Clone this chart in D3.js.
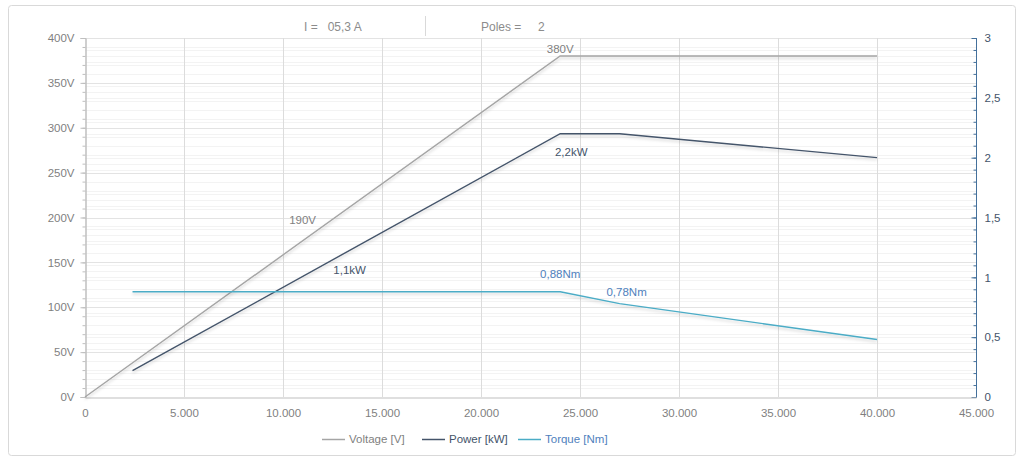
<!DOCTYPE html>
<html><head><meta charset="utf-8">
<script src="https://cdn.jsdelivr.net/npm/d3@7"></script>
<style>
body{margin:0;background:#fff;}
svg{font-family:"Liberation Sans Narrow","Liberation Sans",Arial,sans-serif;}
</style></head><body>
<svg id="c" width="1024" height="461"></svg>
<script>
const voltageRpm = [0, 24000, 40000];
const voltageVal = [0, 380, 380];
const powerRpm = [2400, 24000, 27000, 40000];
const powerVal = [0.22, 2.2, 2.2, 2.0];
const torqueRpm = [2400, 24000, 27000, 40000];
const torqueVal = [0.88, 0.88, 0.78, 0.48];
const xTicks = [0,5000,10000,15000,20000,25000,30000,35000,40000,45000];
const yLeftTicks = [0,50,100,150,200,250,300,350,400];
const yRightTicks = [0,0.5,1,1.5,2,2.5,3];
const labels = [
  {t:"190V", x:12000, y:190, axis:"L", color:"#7f7f7f", dx:-20, dy:-2},
  {t:"380V", x:24000, y:380, axis:"L", color:"#7f7f7f", dx:0, dy:-3},
  {t:"1,1kW", x:12000, y:1.1, axis:"R", color:"#44546a", dx:27, dy:9},
  {t:"2,2kW", x:24000, y:2.2, axis:"R", color:"#44546a", dx:11, dy:22},
  {t:"0,88Nm", x:24000, y:0.88, axis:"R", color:"#4f81bd", dx:0, dy:-14},
  {t:"0,78Nm", x:27000, y:0.78, axis:"R", color:"#4f81bd", dx:7, dy:-8}
];
const series = [
  {name:"Voltage [V]", xs:voltageRpm, ys:voltageVal, axis:"L", color:"#a5a5a5", text:"#7f7f7f"},
  {name:"Power [kW]", xs:powerRpm, ys:powerVal, axis:"R", color:"#44546a", text:"#44546a"},
  {name:"Torque [Nm]", xs:torqueRpm, ys:torqueVal, axis:"R", color:"#4bacc6", text:"#4f81bd"}
];

const svg = d3.select("#c");
const L=85, R=976, T=38, B=397;
const x = d3.scaleLinear().domain([0,45000]).range([L,R]);
const yL = d3.scaleLinear().domain([0,400]).range([B,T]);
const yR = d3.scaleLinear().domain([0,3]).range([B,T]);

const defs = svg.append("defs");
const f = defs.append("filter").attr("id","sh").attr("x","-5%").attr("y","-20%").attr("width","110%").attr("height","160%");
f.append("feDropShadow").attr("dx",0).attr("dy",2).attr("stdDeviation",1.5).attr("flood-color","#000").attr("flood-opacity",0.18);

// border
svg.append("rect").attr("x",8.5).attr("y",5.5).attr("width",1007).attr("height",450).attr("rx",3)
  .attr("fill","#fff").attr("stroke","#d9d9d9");

// header
svg.append("text").attr("x",304).attr("y",31).attr("font-size",12).attr("fill","#8c8c8c").attr("xml:space","preserve").text("I =   05,3 A");
svg.append("line").attr("x1",425.5).attr("x2",425.5).attr("y1",16).attr("y2",36).attr("stroke","#d9d9d9");
svg.append("text").attr("x",481).attr("y",31).attr("font-size",12).attr("fill","#8c8c8c").attr("xml:space","preserve").text("Poles =     2");

// minor gridlines
const g = svg.append("g");
d3.range(10,400,10).filter(v=>v%50!==0).forEach(v=>{
  g.append("line").attr("x1",L).attr("x2",R).attr("y1",Math.round(yL(v))+0.5).attr("y2",Math.round(yL(v))+0.5).attr("stroke","#f3f3f3");
});
d3.range(1,30).map(v=>v/10).forEach(v=>{
  g.append("line").attr("x1",L).attr("x2",R).attr("y1",Math.round(yR(v))+0.5).attr("y2",Math.round(yR(v))+0.5).attr("stroke","#f3f3f3");
});
yLeftTicks.slice(1).forEach(v=>{
  g.append("line").attr("x1",L).attr("x2",R).attr("y1",Math.round(yL(v))+0.5).attr("y2",Math.round(yL(v))+0.5).attr("stroke","#e3e3e3");
});
xTicks.slice(1).forEach(v=>{
  g.append("line").attr("x1",Math.round(x(v))+0.5).attr("x2",Math.round(x(v))+0.5).attr("y1",T).attr("y2",B).attr("stroke","#dcdcdc");
});

// axes
const axL = svg.append("g").attr("transform",`translate(${L+0.5},0)`)
  .call(d3.axisLeft(yL).tickValues(yLeftTicks).tickFormat(d=>d+"V").tickSize(5).tickPadding(6));
const axLm = svg.append("g").attr("transform",`translate(${L+0.5},0)`)
  .call(d3.axisLeft(yL).tickValues(d3.range(0,401,10)).tickFormat("").tickSize(3));
[axL,axLm].forEach(a=>{a.select(".domain").attr("stroke","#bfbfbf");a.selectAll("line").attr("stroke","#bfbfbf");});
axL.selectAll("text").attr("fill","#7f7f7f").attr("font-size",11.5);

const axR = svg.append("g").attr("transform",`translate(${R+0.5},0)`)
  .call(d3.axisRight(yR).tickValues(yRightTicks).tickFormat(d=>String(d).replace(".",",")).tickSize(5).tickPadding(6));
const axRm = svg.append("g").attr("transform",`translate(${R+0.5},0)`)
  .call(d3.axisRight(yR).tickValues(d3.range(0,31).map(v=>v/10)).tickFormat("").tickSize(3));
[axR,axRm].forEach(a=>{a.select(".domain").attr("stroke","#44709b").attr("d",`M0,${T}V${B}`);a.selectAll("line").attr("stroke","#44709b");});
axR.selectAll("line").attr("x1",-5).attr("x2",0);
axRm.selectAll("line").attr("x1",-3).attr("x2",0);
axR.selectAll("text").attr("fill","#44546a").attr("font-size",11.5).attr("x",8);

const axB = svg.append("g").attr("transform",`translate(0,${B+0.5})`)
  .call(d3.axisBottom(x).tickValues(xTicks).tickFormat(d=>d===0?"0":d3.format(",")(d).replace(",",".")).tickSize(0).tickPadding(11));
axB.select(".domain").attr("stroke","#bfbfbf");
axB.selectAll("text").attr("fill","#7f7f7f").attr("font-size",11.5);

// lines
const lg = svg.append("g");
series.forEach(s=>{
  const yS = s.axis==="L"?yL:yR;
  const pts = s.xs.map((v,i)=>[v,s.ys[i]]);
  lg.append("path").datum(pts).attr("fill","none").attr("stroke",s.color).attr("stroke-width",1.4)
    .attr("filter","url(#sh)")
    .attr("d",d3.line().x(d=>x(d[0])).y(d=>yS(d[1])));
});

// labels
labels.forEach(l=>{
  const yS = l.axis==="L"?yL:yR;
  svg.append("text").attr("x",x(l.x)+l.dx).attr("y",yS(l.y)+l.dy).attr("text-anchor","middle")
    .attr("font-size",11.5).attr("fill",l.color).text(l.t);
});

// legend
const legX = [322, 422, 518];
series.forEach((s,i)=>{
  svg.append("line").attr("x1",legX[i]).attr("x2",legX[i]+23).attr("y1",439.5).attr("y2",439.5).attr("stroke",s.color).attr("stroke-width",1.5);
  svg.append("text").attr("x",legX[i]+27).attr("y",443).attr("font-size",11.5).attr("fill",s.text).text(s.name);
});
</script>
</body></html>
